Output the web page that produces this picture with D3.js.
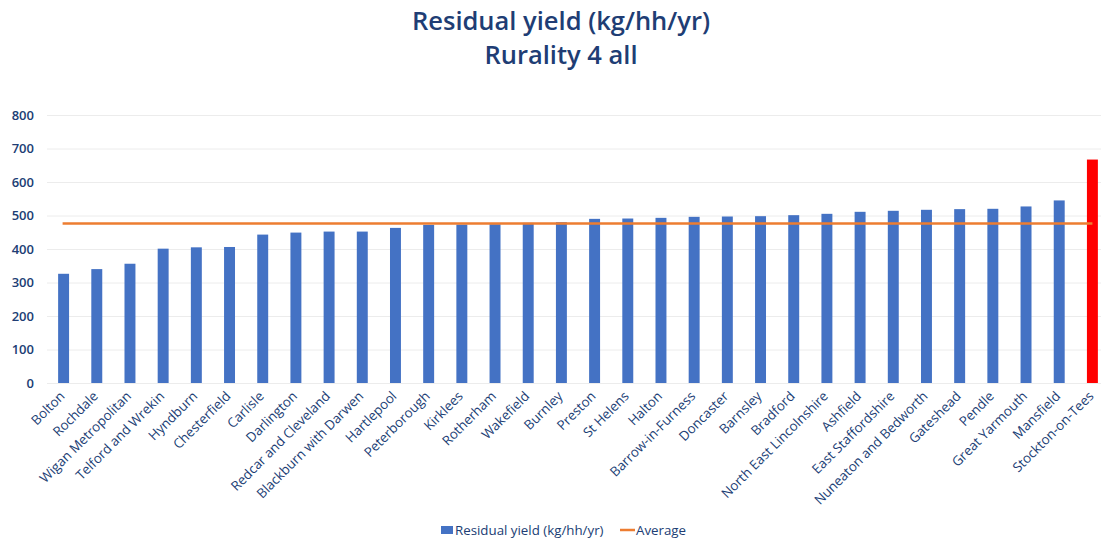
<!DOCTYPE html>
<html>
<head>
<meta charset="utf-8">
<script src="https://cdn.jsdelivr.net/npm/d3@7"></script>
<style>
  body { margin: 0; background: #fff; }
  text { font-family: "Open Sans", sans-serif; }
</style>
</head>
<body>
<script>
// Local authorities, sorted by residual yield
var areas = ["Bolton", "Rochdale", "Wigan Metropolitan", "Telford and Wrekin", "Hyndburn",
  "Chesterfield", "Carlisle", "Darlington", "Redcar and Cleveland", "Blackburn with Darwen",
  "Hartlepool", "Peterborough", "Kirklees", "Rotherham", "Wakefield", "Burnley", "Preston",
  "St Helens", "Halton", "Barrow-in-Furness", "Doncaster", "Barnsley", "Bradford",
  "North East Lincolnshire", "Ashfield", "East Staffordshire", "Nuneaton and Bedworth",
  "Gateshead", "Pendle", "Great Yarmouth", "Mansfield", "Stockton-on-Tees"];

// kg per household per year
var yields = [326, 340, 356, 401, 405, 406, 443, 449, 452, 452, 463, 472, 473, 474, 478,
  480, 490, 491, 493, 496, 497, 498, 501, 505, 511, 514, 517, 519, 520, 527, 545, 667];

var average = 476;
var highlight = "Stockton-on-Tees";
var yTicks = [0, 100, 200, 300, 400, 500, 600, 700, 800];

var width = 1101, height = 540;
var margin = {top: 115, right: -8, bottom: 157, left: 47};

var svg = d3.select("body").append("svg")
    .attr("width", width)
    .attr("height", height);

// titles
svg.append("text")
    .attr("x", 561).attr("y", 30)
    .attr("text-anchor", "middle")
    .attr("fill", "#203d74")
    .style("font-size", "25.5px")
    .style("font-weight", 600)
    .text("Residual yield (kg/hh/yr)");
svg.append("text")
    .attr("x", 561).attr("y", 64)
    .attr("text-anchor", "middle")
    .attr("fill", "#203d74")
    .style("font-size", "25.5px")
    .style("font-weight", 600)
    .text("Rurality 4 all");

var x = d3.scaleBand()
    .domain(areas)
    .range([margin.left, width - margin.right])
    .paddingInner(0.67)
    .paddingOuter(0.335);

var y = d3.scaleLinear()
    .domain([0, 800])
    .range([height - margin.bottom, margin.top]);

// gridlines
svg.append("g")
  .selectAll("line")
  .data(yTicks)
  .enter().append("line")
    .attr("x1", margin.left)
    .attr("x2", width)
    .attr("y1", function(d) { return y(d) + 0.5; })
    .attr("y2", function(d) { return y(d) + 0.5; })
    .attr("stroke", "#ececec")
    .attr("stroke-width", 1);

// y axis labels
var yAxis = svg.append("g")
    .attr("transform", "translate(" + (margin.left - 13) + ",0)")
    .call(d3.axisLeft(y).tickValues(yTicks).tickSize(0).tickPadding(0));
yAxis.select(".domain").remove();
yAxis.selectAll("text")
    .attr("fill", "#203d74")
    .style("font-size", "13px")
    .style("font-weight", 600)
    .style("font-family", "'Open Sans', sans-serif");

// bars
svg.append("g")
  .selectAll("rect")
  .data(areas)
  .enter().append("rect")
    .attr("x", function(d) { return x(d); })
    .attr("width", x.bandwidth())
    .attr("y", function(d, i) { return y(yields[i]); })
    .attr("height", function(d, i) { return y(0) - y(yields[i]); })
    .attr("fill", function(d) { return d === highlight ? "#ff0000" : "#4472c4"; });

// average line, from first bar centre to last bar centre
var half = x.bandwidth() / 2;
svg.append("line")
    .attr("x1", x(areas[0]) + half - 1)
    .attr("x2", x(areas[areas.length - 1]) + half)
    .attr("y1", y(average))
    .attr("y2", y(average))
    .attr("stroke", "#ed7d31")
    .attr("stroke-width", 2.5);

// category labels
var xAxis = svg.append("g")
    .attr("transform", "translate(0," + y(0) + ")")
    .call(d3.axisBottom(x).tickSize(0).tickPadding(0));
xAxis.select(".domain").remove();
xAxis.selectAll("text")
    .attr("fill", "#203d74")
    .style("font-size", "13.3px")
    .style("font-family", "'Open Sans', sans-serif")
    .attr("text-anchor", "end")
    .attr("dy", null)
    .attr("y", 0)
    .attr("transform", "translate(2,14) rotate(-45)");

// legend
var legend = svg.append("g").attr("transform", "translate(441,530)");
legend.append("rect")
    .attr("x", 0).attr("y", -4)
    .attr("width", 12).attr("height", 8)
    .attr("fill", "#4472c4");
legend.append("text")
    .attr("x", 14).attr("y", 4.5)
    .attr("fill", "#203d74")
    .style("font-size", "13.3px")
    .text("Residual yield (kg/hh/yr)");
legend.append("line")
    .attr("x1", 179).attr("x2", 194)
    .attr("y1", 0).attr("y2", 0)
    .attr("stroke", "#ed7d31")
    .attr("stroke-width", 2.5);
legend.append("text")
    .attr("x", 195).attr("y", 4.5)
    .attr("fill", "#203d74")
    .style("font-size", "13.3px")
    .text("Average");
</script>
</body>
</html>
